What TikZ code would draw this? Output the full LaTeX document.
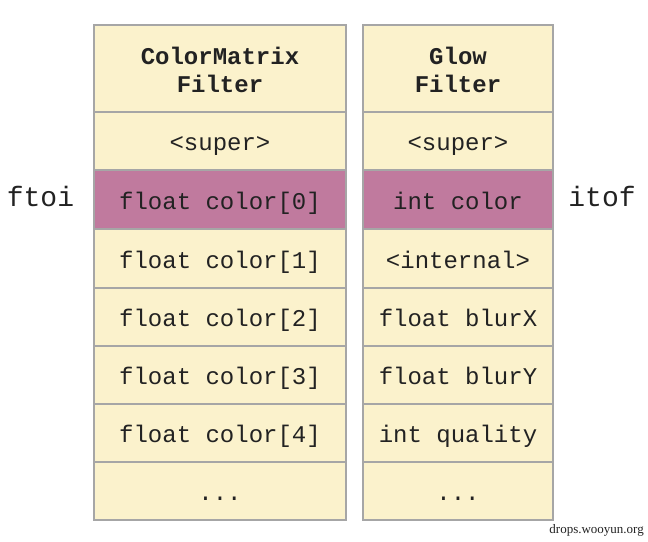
\documentclass[tikz,border=0pt]{standalone}
\usepackage{fontspec}
\usepackage{xcolor}
\usepackage{tikz}
\usetikzlibrary{positioning}
\newfontfamily\cour{Liberation Mono}
\newfontfamily\tms{Liberation Serif}
\definecolor{cell_fill}{RGB}{251, 242, 204}
\definecolor{cell_hot}{RGB}{192, 122, 158}
\definecolor{cell_line}{RGB}{166, 166, 166}
\definecolor{ink}{RGB}{34, 34, 34}

\begin{document}
\begin{tikzpicture}[x=1pt, y=-1pt,
      cell/.style ={draw=cell_line, line width=2pt, fill=cell_fill, text=ink, align=center,
                    font=\cour\fontsize{24}{28}\selectfont, inner sep=0pt, minimum height=58.5pt,
                    text height=24pt, text depth=5pt},
      hot/.style  ={cell, fill=cell_hot},
      head/.style ={draw=cell_line, line width=2pt, fill=cell_fill, text=ink, align=center,
                    font=\cour\bfseries\fontsize{24}{28}\selectfont, inner sep=0pt, minimum height=87pt},
      wide/.style ={minimum width=252pt},
      slim/.style ={minimum width=190pt},
      side/.style ={text=ink, font=\cour\fontsize{28}{30}\selectfont, inner sep=0pt, anchor=base}]
    \useasboundingbox (0,0) rectangle (648,541);
    % --- LEFT: ColorMatrix filter layout ---
    \node[head, wide] (cm0) at (220,68.5)  {\rule{0pt}{21pt}ColorMatrix\\Filter};
    \node[cell, wide] (cm1) at (220,141)   {<super>};
    \node[hot,  wide] (cm2) at (220,199.5) {float color[0]};
    \node[cell, wide] (cm3) at (220,258.5) {float color[1]};
    \node[cell, wide] (cm4) at (220,317)   {float color[2]};
    \node[cell, wide] (cm5) at (220,375)   {float color[3]};
    \node[cell, wide] (cm6) at (220,433)   {float color[4]};
    \node[cell, wide] (cm7) at (220,491)   {...};
    % --- RIGHT: Glow filter layout ---
    \node[head, slim] (gl0) at (458,68.5)  {\rule{0pt}{21pt}Glow\\Filter};
    \node[cell, slim] (gl1) at (458,141)   {<super>};
    \node[hot,  slim] (gl2) at (458,199.5) {int color};
    \node[cell, slim] (gl3) at (458,258.5) {<internal>};
    \node[cell, slim] (gl4) at (458,317)   {float blurX};
    \node[cell, slim] (gl5) at (458,375)   {float blurY};
    \node[cell, slim] (gl6) at (458,433)   {int quality};
    \node[cell, slim] (gl7) at (458,491)   {...};
    % --- SIDES: conversions on the overlapping field ---
    \node[side] (ftoi) at (40.5,206) {ftoi};
    \node[side] (itof) at (602,206)  {itof};
    \node[anchor=base east, font=\tms\fontsize{13}{13}\selectfont, text=ink, inner sep=0pt]
      (mark) at (644,533) {drops.wooyun.org};
  \end{tikzpicture}
\end{document}
